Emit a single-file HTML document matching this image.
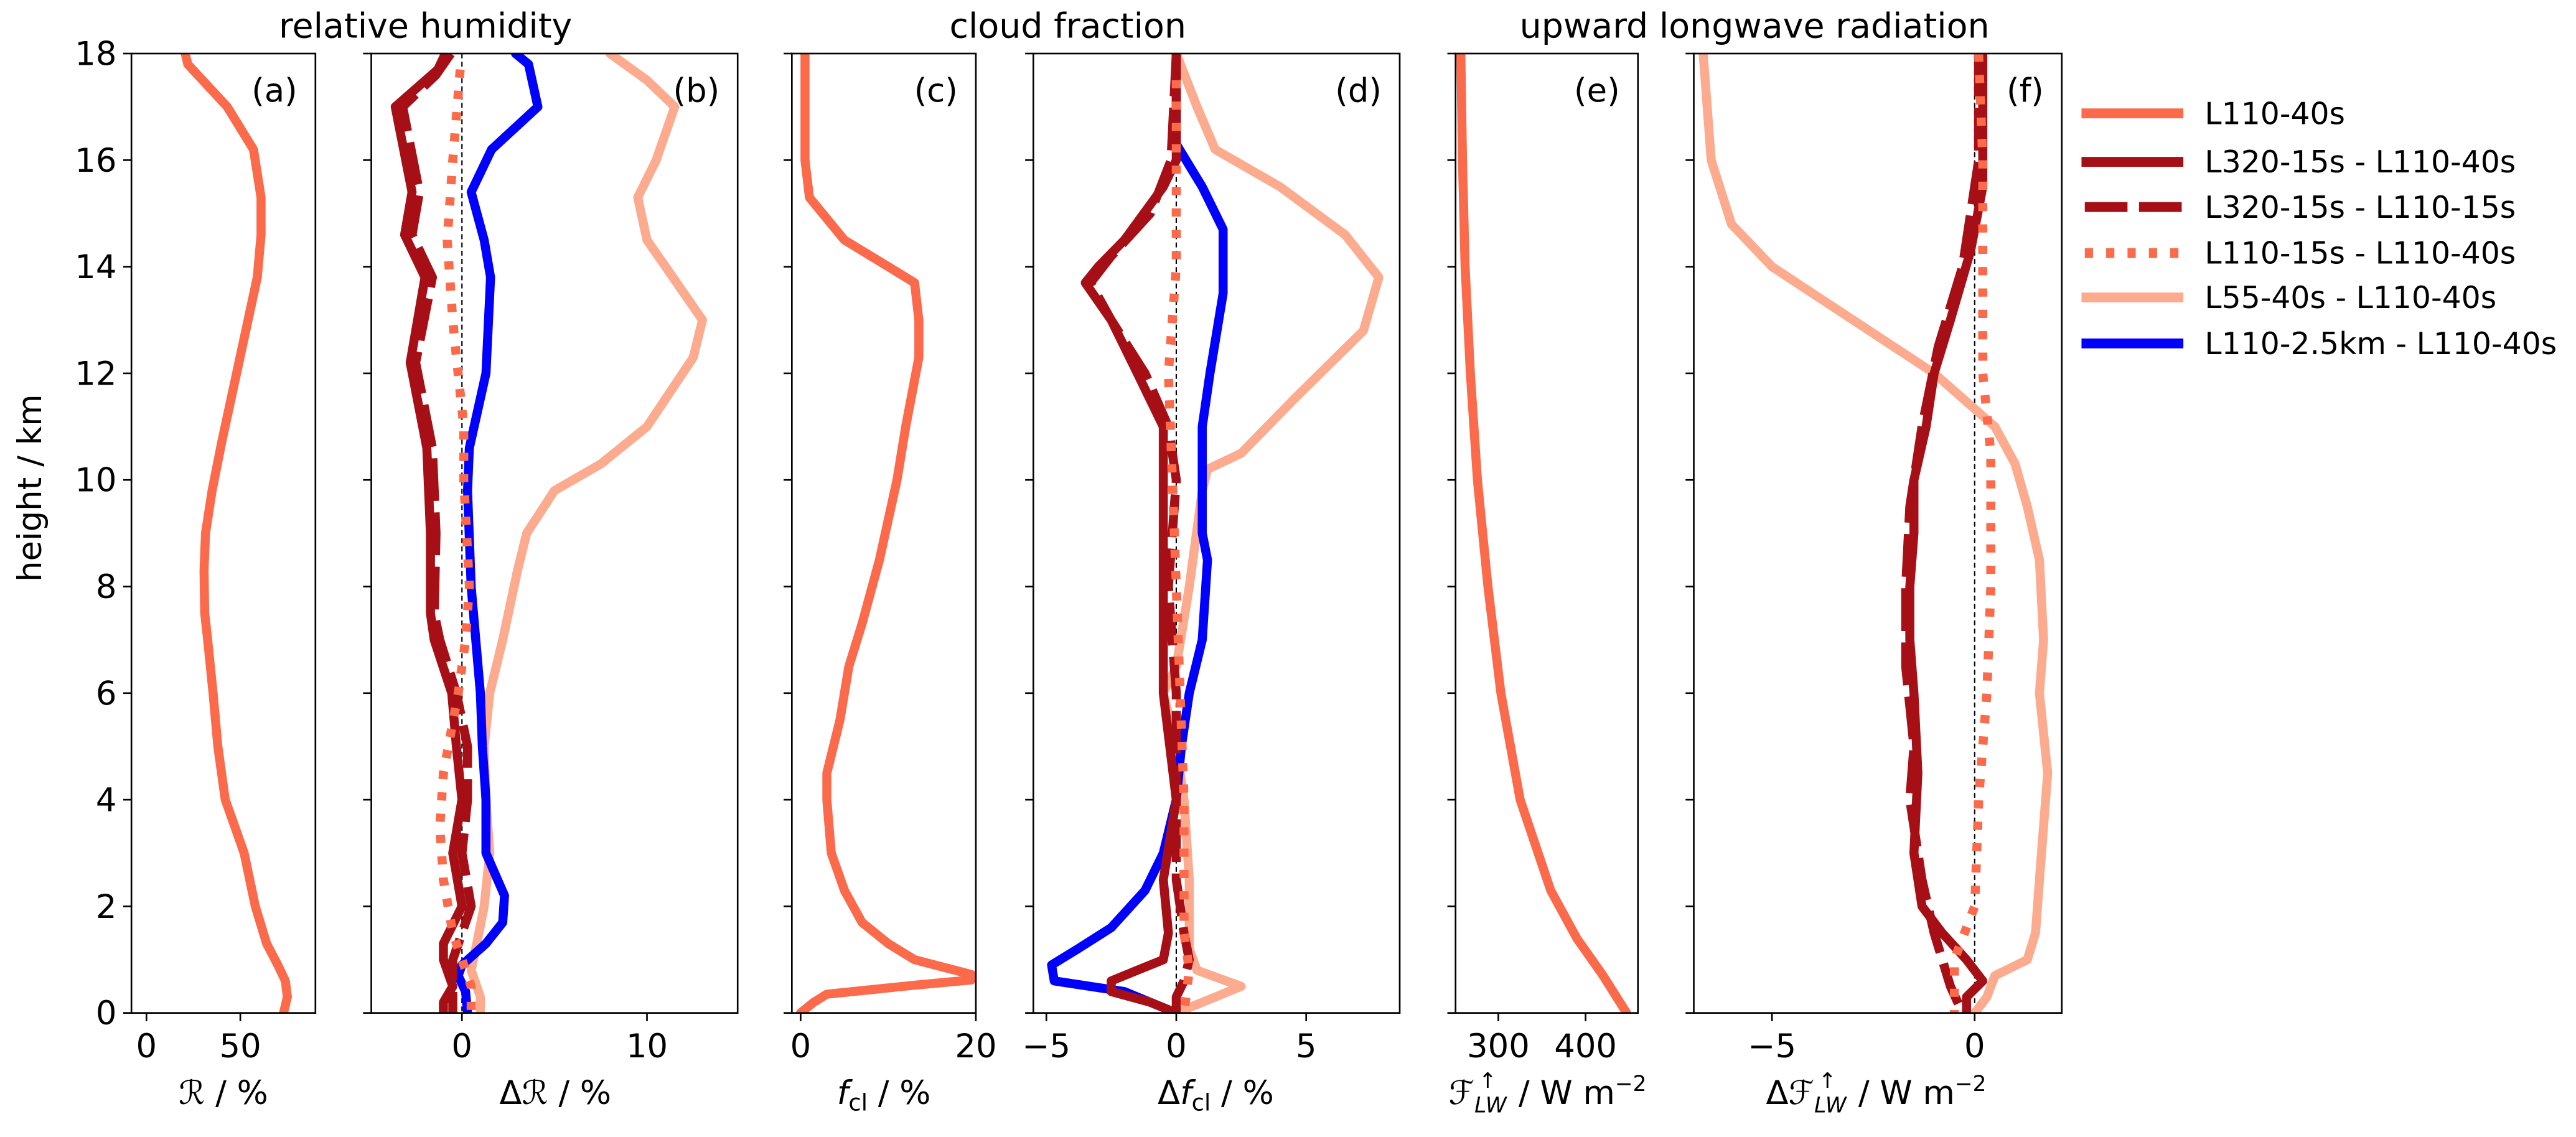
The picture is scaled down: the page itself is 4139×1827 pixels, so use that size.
<!DOCTYPE html>
<html><head><meta charset="utf-8"><style>
html,body{margin:0;padding:0;background:#fff}
svg{display:block}
text{font-family:"DejaVu Sans","Liberation Sans",sans-serif;fill:#000}
</style></head><body>
<svg id="s" xmlns="http://www.w3.org/2000/svg" width="4139" height="1827" viewBox="0 0 1568 692" preserveAspectRatio="none">
<rect width="1568" height="692" fill="#fff"/>
<g id="g"></g>
<text x="259" y="23" font-size="21" text-anchor="middle">relative humidity</text>
<text x="650" y="23" font-size="21" text-anchor="middle">cloud fraction</text>
<text x="1068" y="23" font-size="21" text-anchor="middle">upward longwave radiation</text>
<text transform="translate(25,297) rotate(-90)" font-size="20" text-anchor="middle">height / km</text>
<text x="136" y="672" font-size="20" text-anchor="middle"><tspan font-style="italic">ℛ</tspan> / %</text>
<text x="338" y="672" font-size="20" text-anchor="middle">Δ<tspan font-style="italic">ℛ</tspan> / %</text>
<text x="538" y="672" font-size="20" text-anchor="middle"><tspan font-style="italic">f</tspan><tspan font-size="14" dy="4">cl</tspan><tspan dy="-4"> / %</tspan></text>
<text x="740" y="672" font-size="20" text-anchor="middle">Δ<tspan font-style="italic">f</tspan><tspan font-size="14" dy="4">cl</tspan><tspan dy="-4"> / %</tspan></text>
<text x="942" y="672" font-size="20" text-anchor="middle"><tspan font-style="italic">ℱ</tspan><tspan font-size="13" dy="5" font-style="italic">LW</tspan><tspan font-size="13" dx="-17" dy="-15">↑</tspan><tspan dy="10" dx="7"> / W m</tspan><tspan font-size="13" dy="-8">−2</tspan></text>
<text x="1142" y="672" font-size="20" text-anchor="middle">Δ<tspan font-style="italic">ℱ</tspan><tspan font-size="13" dy="5" font-style="italic">LW</tspan><tspan font-size="13" dx="-17" dy="-15">↑</tspan><tspan dy="10" dx="7"> / W m</tspan><tspan font-size="13" dy="-8">−2</tspan></text>
<g font-size="18.5">
<line x1="1267" y1="69" x2="1329" y2="69" stroke="#fb6a4a" stroke-width="6"/>
<text x="1342" y="75.5">L110-40s</text>
<line x1="1267" y1="98.5" x2="1329" y2="98.5" stroke="#a50f15" stroke-width="6"/>
<text x="1342" y="105">L320-15s - L110-40s</text>
<line x1="1269" y1="126" x2="1329" y2="126" stroke="#a50f15" stroke-width="6" stroke-dasharray="26,7"/>
<text x="1342" y="132.5">L320-15s - L110-15s</text>
<line x1="1269" y1="154" x2="1329" y2="154" stroke="#fb6a4a" stroke-width="6" stroke-dasharray="5,8"/>
<text x="1342" y="160.5">L110-15s - L110-40s</text>
<line x1="1267" y1="181" x2="1329" y2="181" stroke="#fcab8f" stroke-width="6"/>
<text x="1342" y="187.5">L55-40s - L110-40s</text>
<line x1="1267" y1="209" x2="1329" y2="209" stroke="#0000ff" stroke-width="6"/>
<text x="1342" y="215.5">L110-2.5km - L110-40s</text>
</g>
</svg>
<script>
const NS="http://www.w3.org/2000/svg",g=document.getElementById('g');
const Y=h=>616.5-h*32.44;
const C={o:"#fb6a4a",d:"#a50f15",l:"#fcab8f",b:"#0000ff"};
function el(t,a,p){const e=document.createElementNS(NS,t);for(const k in a)e.setAttribute(k,a[k]);(p||g).appendChild(e);return e;}
const P=[
{L:80,R:192,a:-8,b:90,ticks:[0,50],zero:false,lab:"(a)",ylab:true,s:[
["o","",[[20,18.1],[22,17.8],[43,17],[57,16.2],[61,15.3],[61,14.6],[59,13.8],[48,12],[40,10.7],[35,9.8],[31.5,9],[30.7,8.3],[31,7.5],[32.6,7],[35.5,6],[38,5],[42,4],[47,3.5],[52,3],[58,2],[64,1.3],[70,0.9],[74,0.6],[75,0.3],[73,0]]]]},
{L:226,R:449,a:-4.9,b:14.9,ticks:[0,10],zero:true,lab:"(b)",s:[
["l","",[[8,18],[10,17.5],[11.5,17],[10.5,16],[9.5,15.3],[10,14.5],[11,14],[13,13],[12.5,12.3],[10,11],[7.5,10.3],[5,9.8],[3.5,9],[3,8.3],[2.2,7],[1.5,6],[1.2,5],[1.3,4],[1.5,3],[1.2,2],[0.8,1.3],[0.5,0.8],[1,0.3],[1,0]]],
["b","",[[2.9,18],[3.6,17.8],[4.1,17],[1.6,16.2],[0.5,15.4],[1.2,14.5],[1.55,13.8],[1.3,12],[0.4,10.6],[0.3,9.8],[0.5,8],[1,6],[1.1,5],[1.3,4],[1.3,3],[2.3,2.2],[2.2,1.7],[1.3,1.3],[0,0.9],[-0.2,0.7],[0.2,0.4],[0.3,0]]],
["d","",[[-0.9,18],[-1.3,17.7],[-3.6,17],[-2.7,15.4],[-3.1,14.6],[-2,13.8],[-2.8,12.2],[-1.9,10.6],[-1.7,9],[-1.7,7.5],[-1.5,7],[-0.55,6],[-0.3,5],[0,4],[-0.5,3],[0,2],[-1,1.3],[-1,1],[-0.5,0.5],[-1,0.2],[-1,0]]],
["d","26,7",[[-0.6,18],[-1.4,17.6],[-3.2,17],[-2.3,15.4],[-2.7,14.6],[-1.6,13.8],[-2.5,12.2],[-1.6,10.6],[-1.4,9],[-1.5,7.5],[-1.2,7],[-0.3,6],[0.3,5],[0.3,4],[0,3],[0.5,2],[-0.5,1],[-0.5,0]]],
["o","5,8",[[-0.1,17.7],[-0.5,16],[-0.8,14.5],[-0.5,13],[-0.3,12.3],[0.1,11],[0.1,10],[0.4,8],[0.2,7],[-0.2,6],[-1,4.5],[-1.2,3.5],[-1,2.5],[-0.5,1.5],[0,1],[0.5,0.5],[0.5,0]]]]},
{L:482,R:594,a:-1,b:20,ticks:[0,20],zero:false,lab:"(c)",s:[
["o","",[[0.5,18],[0.5,16],[1,15.3],[5,14.5],[10,14],[13,13.7],[13.5,13],[13.5,12.3],[12,11],[11,10],[9,8.5],[7,7.3],[5.5,6.5],[4.5,5.5],[3,4.5],[3,4],[3.5,3],[5,2.3],[7,1.7],[10,1.3],[13,1.0],[19.5,0.72],[19.5,0.62],[13,0.52],[3,0.35],[1.5,0.2],[0,0]]]]},
{L:629,R:852,a:-5.5,b:8.6,ticks:[-5,0,5],zero:true,lab:"(d)",s:[
["l","",[[0,18],[0.8,17],[1.5,16.2],[4,15.5],[6.5,14.6],[7.8,13.8],[7.2,12.8],[4.5,11.5],[2.5,10.5],[1.2,10.2],[1,9.8],[0.5,8],[0,6.5],[-0.5,6],[0,5],[0.3,4],[0.5,2.5],[0.5,1.8],[0.5,1.2],[0.8,0.8],[2.5,0.5],[1.5,0.3],[0,0]]],
["b","",[[0,18],[0,16.3],[1,15.5],[1.8,14.7],[1.8,13.5],[1.3,12],[1,11],[1,10],[1,9],[1.2,8.5],[1,7],[0.5,6],[0.2,5],[0,4],[-0.5,3],[-1.2,2.3],[-2.5,1.6],[-3.8,1.2],[-4.8,0.9],[-4.7,0.6],[-2,0.4],[-0.5,0.1],[0,0]]],
["d","",[[0,18],[0,16],[-0.5,15.5],[-2,14.5],[-3,14],[-3.5,13.7],[-2.5,13],[-1.5,12],[-0.5,11],[-0.5,10],[-0.5,8],[-0.5,6],[0,4],[-0.5,2.5],[-0.3,1.5],[-0.5,1],[-1.5,0.8],[-2.5,0.6],[-2.5,0.4],[-1,0.2],[0,0]]],
["d","26,7",[[0,18],[-0.2,16],[-1,15],[-2.5,14.2],[-3.3,13.7],[-2.5,13],[-1.2,12],[-0.3,11],[0,10],[-0.3,8],[0,6],[0,4],[0,2.5],[0.3,1.5],[0.5,1],[0.3,0.6],[0,0.3],[0,0]]],
["o","5,8",[[0,17.5],[0,14],[-0.3,12],[0,8],[0.3,4],[0.3,1.5],[0.5,0.8],[0.3,0]]]]},
{L:886,R:997,a:251,b:460,ticks:[300,400],zero:false,lab:"(e)",s:[
["o","",[[257,18],[259,16],[262,14],[268,12],[276,10],[288,8],[303,6],[325,4],[360,2.3],[390,1.4],[420,0.7],[447,0]]]]},
{L:1031,R:1255,a:-6.93,b:2.15,ticks:[-5,0],zero:true,lab:"(f)",s:[
["l","",[[-6.7,18],[-6.5,16],[-6,14.8],[-5,14],[-3,13],[-1,12],[0.5,11],[1,10.3],[1.3,9.5],[1.6,8.5],[1.7,7],[1.6,6],[1.8,4.5],[1.7,3.5],[1.6,2.5],[1.5,1.5],[1.3,1],[0.5,0.7],[0.3,0.3],[0,0]]],
["d","",[[0.2,18],[0.2,15.5],[-0.1,14.3],[-0.6,13],[-1,12],[-1.2,11],[-1.5,10],[-1.5,9],[-1.6,8],[-1.6,7],[-1.5,6],[-1.4,4.5],[-1.5,3],[-1.3,2],[-0.8,1.5],[-0.2,1],[0.2,0.6],[-0.2,0.3],[-0.2,0]]],
["d","26,7",[[0.1,18],[0.1,16],[-0.3,14],[-0.9,12.5],[-1.3,11],[-1.6,9.5],[-1.7,8],[-1.7,6.5],[-1.5,5],[-1.6,4],[-1.3,2.5],[-1,1.5],[-0.6,0.5],[-0.3,0]]],
["o","5,8",[[0.1,18],[0.2,16],[0.2,12],[0.4,10.5],[0.4,8],[0.3,6],[0.1,4],[0,2],[-0.5,1],[-0.5,0.3],[-0.5,0]]]]}
];
P.forEach((p,i)=>{
 const X=v=>p.L+(v-p.a)/(p.b-p.a)*(p.R-p.L);
 const cid="c"+i;
 const cp=el("clipPath",{id:cid});el("rect",{x:p.L,y:Y(18),width:p.R-p.L,height:Y(0)-Y(18)},cp);
 if(p.zero) el("line",{x1:X(0),y1:Y(18),x2:X(0),y2:Y(0),stroke:"#000","stroke-width":0.8,"stroke-dasharray":"3,2"});
 const gg=el("g",{"clip-path":"url(#"+cid+")"});
 p.s.forEach(s=>{
  const d=s[2].map((q,j)=>(j?"L":"M")+X(q[0]).toFixed(1)+","+Y(q[1]).toFixed(1)).join("");
  const a={d:d,fill:"none",stroke:C[s[0]],"stroke-width":5.5,"stroke-linejoin":"round"};
  if(s[1]){a["stroke-dasharray"]=s[1];}else a["stroke-linecap"]="round";
  el("path",a,gg);
 });
 el("rect",{x:p.L,y:Y(18),width:p.R-p.L,height:Y(0)-Y(18),fill:"none",stroke:"#000","stroke-width":1});
 for(let h=0;h<=18;h+=2){
  el("line",{x1:p.L-5,y1:Y(h),x2:p.L,y2:Y(h),stroke:"#000","stroke-width":1});
  if(p.ylab){const t=el("text",{x:p.L-9,y:Y(h)+7,"font-size":20,"text-anchor":"end"});t.textContent=h;}
 }
 p.ticks.forEach(v=>{
  el("line",{x1:X(v),y1:Y(0),x2:X(v),y2:Y(0)+5,stroke:"#000","stroke-width":1});
  const t=el("text",{x:X(v),y:Y(0)+27,"font-size":20,"text-anchor":"middle"});t.textContent=(v<0?"−"+(-v):v);
 });
 const t=el("text",{x:p.R-11,y:62,"font-size":20,"text-anchor":"end"});t.textContent=p.lab;
});
</script>
</body></html>
